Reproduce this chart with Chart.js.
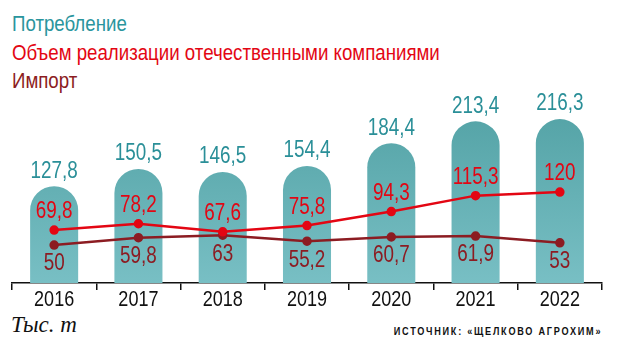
<!DOCTYPE html>
<html lang="ru">
<head>
  <meta charset="UTF-8" />
  <title>Потребление и импорт</title>
  <script src="https://cdn.jsdelivr.net/npm/chart.js"></script>
  <style>
    body { margin: 0; background: #fff; width: 620px; height: 353px; overflow: hidden; position: relative; }
    .narrow { font-family: "Liberation Sans", Arial, sans-serif; transform: scaleX(0.83); transform-origin: left top; }
    .leg { position: absolute; left: 12px; font-size: 22.5px; line-height: 22px; white-space: nowrap; }
    #wrap { position: absolute; left: 0; top: 0; width: 620px; height: 310px; }
    #unit { position: absolute; left: 11px; top: 312px; font-family: "Liberation Serif", serif; font-style: italic; font-size: 23px; color: #111; }
    #src { position: absolute; right: 18px; top: 325px; font-size: 11px; font-weight: bold; letter-spacing: 2.1px; color: #111; white-space: nowrap; transform-origin: right top; }
  </style>
</head>
<body>
  <div class="leg narrow" style="top:13px;color:#2a959d">Потребление</div>
  <div class="leg narrow" style="top:42px;color:#e30613">Объем реализации отечественными компаниями</div>
  <div class="leg narrow" style="top:70px;color:#8c1c22">Импорт</div>

  <div id="wrap"><canvas id="chart" width="620" height="310"></canvas></div>

  <div id="unit">Тыс. т</div>
  <div id="src" class="narrow">ИСТОЧНИК: «ЩЕЛКОВО АГРОХИМ»</div>

  <script>
    // данные (тыс. т)
    const anos = ['2016', '2017', '2018', '2019', '2020', '2021', '2022'];
    const consumo = [127.8, 150.5, 146.5, 154.4, 184.4, 213.4, 216.3];
    const nacional = [69.8, 78.2, 67.6, 75.8, 94.3, 115.3, 120];
    const importacao = [50, 59.8, 63, 55.2, 60.7, 61.9, 53];

    const fonte = '"Liberation Sans", Arial, sans-serif';
    const estreito = 0.82;
    const fmt = v => String(v).replace('.', ',');

    function textoEstreito(ctx, txt, x, y) {
      ctx.save();
      ctx.translate(x, y);
      ctx.scale(estreito, 1);
      ctx.fillText(txt, 0, 0);
      ctx.restore();
    }

    // подписи значений и годов
    const rotulos = {
      id: 'rotulos',
      afterDatasetsDraw(chart) {
        const ctx = chart.ctx;
        ctx.save();
        ctx.font = '23px ' + fonte;
        ctx.textAlign = 'center';
        ctx.textBaseline = 'middle';
        chart.data.datasets.forEach((ds, i) => {
          const meta = chart.getDatasetMeta(i);
          meta.data.forEach((el, j) => {
            ctx.fillStyle = ds.corRotulo;
            textoEstreito(ctx, fmt(ds.data[j]), el.x, el.y + ds.deslocamento);
          });
        });
        const x = chart.scales.x;
        ctx.font = '22px ' + fonte;
        ctx.fillStyle = '#111';
        anos.forEach((a, j) => {
          textoEstreito(ctx, a, x.getPixelForValue(j), chart.chartArea.bottom + 17);
        });
        ctx.restore();
      }
    };

    const ctx = document.getElementById('chart').getContext('2d');
    new Chart(ctx, {
      type: 'bar',
      data: {
        labels: anos,
        datasets: [
          {
            type: 'line',
            data: nacional,
            borderColor: '#e30613',
            backgroundColor: '#e30613',
            borderWidth: 2.5,
            pointRadius: 3.5,
            corRotulo: '#e30613',
            deslocamento: -18,
            order: 1
          },
          {
            type: 'line',
            data: importacao,
            borderColor: '#8c1c22',
            backgroundColor: '#8c1c22',
            borderWidth: 2.5,
            pointRadius: 3.5,
            corRotulo: '#8c1c22',
            deslocamento: 19,
            order: 2
          },
          {
            data: consumo,
            backgroundColor: (c) => {
              const area = c.chart.chartArea;
              if (!area) return '#6ab4b9';
              const g = c.chart.ctx.createLinearGradient(0, area.top, 0, area.bottom);
              g.addColorStop(0, '#4f9fa2');
              g.addColorStop(1, '#78bfc4');
              return g;
            },
            borderRadius: { topLeft: 24, topRight: 24 },
            borderSkipped: 'bottom',
            barPercentage: 0.57,
            categoryPercentage: 1,
            corRotulo: '#2a8f98',
            deslocamento: -15,
            order: 3
          }
        ]
      },
      options: {
        responsive: false,
        animation: false,
        layout: { padding: { top: 86, left: 12, right: 18, bottom: 0 } },
        plugins: { legend: { display: false }, tooltip: { enabled: false } },
        scales: {
          x: {
            grid: { drawOnChartArea: false, drawTicks: true, tickLength: 7, color: '#111', lineWidth: 1.5 },
            border: { display: true, color: '#111', width: 1.5 },
            ticks: { display: false },
            afterFit: (s) => { s.height = 27; }
          },
          y: {
            display: false,
            min: 0,
            max: 260
          }
        }
      },
      plugins: [rotulos]
    });
  </script>
</body>
</html>
